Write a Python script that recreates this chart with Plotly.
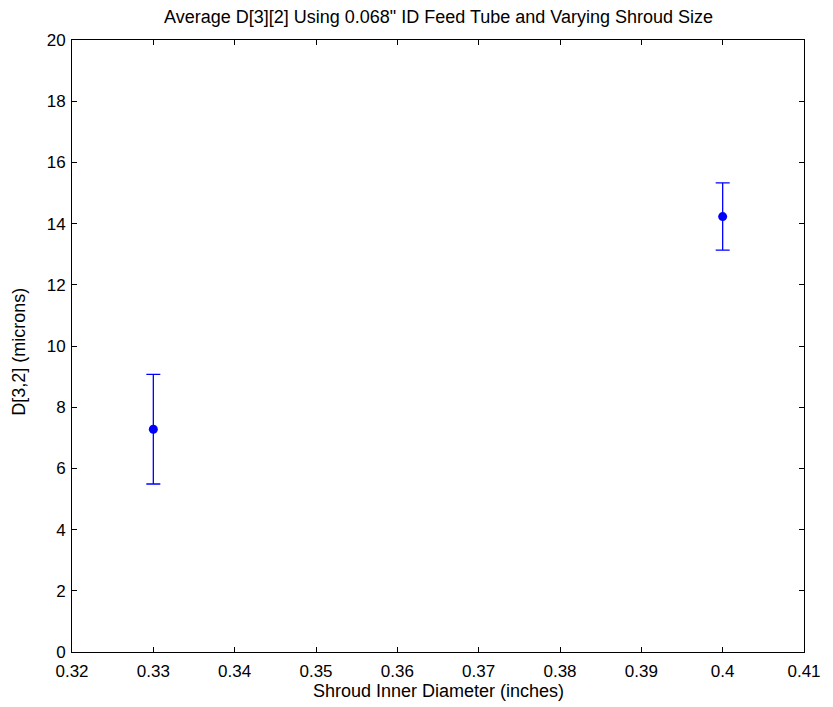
import plotly.graph_objects as go

shroud_id = [0.33, 0.40]
d32_mean = [7.28, 14.23]
d32_err = [1.79, 1.10]

x_ticks = [0.32, 0.33, 0.34, 0.35, 0.36, 0.37, 0.38, 0.39, 0.40, 0.41]
x_ticktext = ["0.32", "0.33", "0.34", "0.35", "0.36", "0.37", "0.38", "0.39", "0.4", "0.41"]
y_ticks = [0, 2, 4, 6, 8, 10, 12, 14, 16, 18, 20]

title_text = "Average D[3][2] Using 0.068\" ID Feed Tube and Varying Shroud Size"
x_title = "Shroud Inner Diameter (inches)"
y_title = "D[3,2] (microns)"

fig = go.Figure()
fig.add_trace(go.Scatter(
    x=shroud_id, y=d32_mean, mode="markers",
    marker=dict(color="#0000FF", size=9),
    error_y=dict(type="data", array=d32_err, visible=True, color="#0000FF", thickness=1.3, width=7),
    showlegend=False,
))

font = dict(family="Liberation Sans, Arial, sans-serif", size=17, color="#000000")
lab_font = dict(family="Liberation Sans, Arial, sans-serif", size=18, color="#000000")
axis_common = dict(
    showgrid=False, zeroline=False, showline=True, linecolor="#000000", linewidth=1,
    mirror="ticks", ticks="inside", ticklen=5, tickcolor="#000000", tickwidth=1,
    tickfont=font,
)
fig.update_layout(
    width=833, height=707,
    margin=dict(l=72, r=20, t=40, b=55),
    paper_bgcolor="#FFFFFF", plot_bgcolor="#FFFFFF",
    xaxis=dict(range=[0.32, 0.41], tickvals=x_ticks, ticktext=x_ticktext,
               ticklabelstandoff=4, **axis_common),
    yaxis=dict(range=[0, 20], tickvals=y_ticks, ticklabelstandoff=2, **axis_common),
    annotations=[
        dict(text=title_text, xref="paper", yref="paper", x=0.50, y=1.0376,
             xanchor="center", yanchor="middle", showarrow=False, font=lab_font),
        dict(text=x_title, xref="paper", yref="paper", x=0.50, y=-0.064,
             xanchor="center", yanchor="middle", showarrow=False, font=lab_font),
        dict(text=y_title, xref="paper", yref="paper", x=-0.0729, y=0.49,
             xanchor="center", yanchor="middle", showarrow=False, textangle=-90, font=lab_font),
    ],
)
fig.write_html("out.html")
